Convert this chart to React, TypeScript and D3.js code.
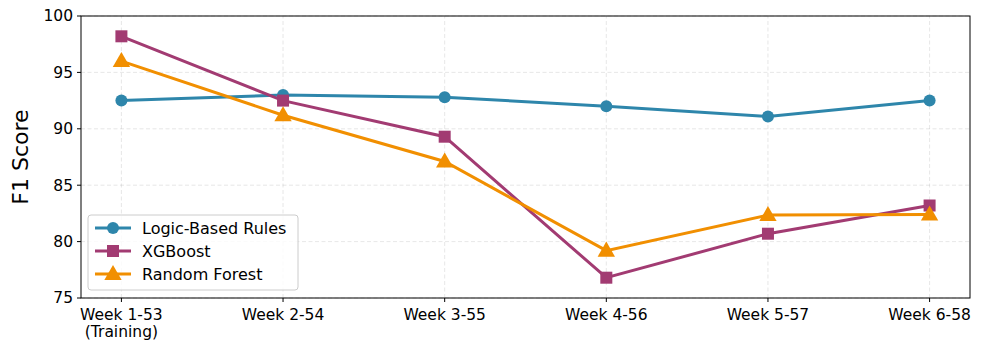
import React from 'react';
import * as d3 from 'd3';

const weeks = ['Week 1-53\n(Training)', 'Week 2-54', 'Week 3-55', 'Week 4-56', 'Week 5-57', 'Week 6-58'];
const logicRules = [92.5, 93.0, 92.8, 92.0, 91.1, 92.5];
const xgboost = [98.2, 92.5, 89.3, 76.8, 80.7, 83.2];
const randomForest = [96.0, 91.2, 87.1, 79.2, 82.35, 82.4];
const yTicks = [75, 80, 85, 90, 95, 100];

const series = [
  { name: 'Logic-Based Rules', values: logicRules, color: '#2E86AB', marker: 'circle' },
  { name: 'XGBoost', values: xgboost, color: '#A23B72', marker: 'square' },
  { name: 'Random Forest', values: randomForest, color: '#F18F01', marker: 'triangle' },
];

const W = 984;
const H = 350;
const m = { left: 81, right: 14, top: 16, bottom: 52 };
const font = 'DejaVu Sans, sans-serif';

function Marker({ type, x, y, color }: { type: string; x: number; y: number; color: string }) {
  if (type === 'circle') return <circle cx={x} cy={y} r={6} fill={color} />;
  if (type === 'square') return <rect x={x - 6} y={y - 6} width={12} height={12} fill={color} />;
  const s = d3.symbol(d3.symbolTriangle, 130)();
  return <path d={s || ''} transform={`translate(${x},${y + 1})`} fill={color} />;
}

export default function App() {
  const x = d3.scaleLinear().domain([-0.25, weeks.length - 0.75]).range([m.left, W - m.right]);
  const y = d3.scaleLinear().domain([75, 100]).range([H - m.bottom, m.top]);
  const line = d3.line<number>().x((_, i) => x(i)).y((d) => y(d));

  return (
    <svg width={W} height={H} style={{ position: 'absolute', left: 0, top: 0, background: '#fff' }}>
      <g>
        {weeks.map((_, i) => (
          <line key={'vg' + i} x1={x(i)} x2={x(i)} y1={y(75)} y2={y(100)} stroke="#b0b0b0" strokeOpacity={0.3} strokeDasharray="4,2.5" />
        ))}
        {yTicks.map((t) => (
          <line key={'hg' + t} x1={m.left} x2={W - m.right} y1={y(t)} y2={y(t)} stroke="#b0b0b0" strokeOpacity={0.3} strokeDasharray="4,2.5" />
        ))}
      </g>
      {series.map((s) => (
        <g key={s.name}>
          <path d={line(s.values) || ''} fill="none" stroke={s.color} strokeWidth={3} />
          {s.values.map((v, i) => (
            <Marker key={i} type={s.marker} x={x(i)} y={y(v)} color={s.color} />
          ))}
        </g>
      ))}
      <rect x={m.left} y={m.top} width={W - m.left - m.right} height={H - m.top - m.bottom} fill="none" stroke="#000" strokeWidth={1} />
      {yTicks.map((t) => (
        <g key={'yt' + t}>
          <line x1={m.left - 4} x2={m.left} y1={y(t)} y2={y(t)} stroke="#000" />
          <text x={m.left - 8} y={y(t)} dy="0.35em" textAnchor="end" fontFamily={font} fontSize={15.5}>{t}</text>
        </g>
      ))}
      {weeks.map((w, i) => (
        <g key={'xt' + i}>
          <line x1={x(i)} x2={x(i)} y1={y(75)} y2={y(75) + 4} stroke="#000" />
          <text x={x(i)} y={y(75) + 22} textAnchor="middle" fontFamily={font} fontSize={15.5}>
            {w.split('\n').map((part, j) => (
              <tspan key={j} x={x(i)} dy={j === 0 ? 0 : 17}>{part}</tspan>
            ))}
          </text>
        </g>
      ))}
      <text transform={`translate(28,${(m.top + H - m.bottom) / 2}) rotate(-90)`} textAnchor="middle" fontFamily={font} fontSize={22}>F1 Score</text>
      <g transform="translate(88,215)">
        <rect x={0} y={0} width={210} height={75} rx={3} fill="#fff" fillOpacity={0.8} stroke="#ccc" />
        {series.map((s, i) => (
          <g key={'lg' + s.name} transform={`translate(0,${13 + i * 23})`}>
            <line x1={7} x2={43} y1={0} y2={0} stroke={s.color} strokeWidth={3} />
            <Marker type={s.marker} x={25} y={0} color={s.color} />
            <text x={54} y={0} dy="0.35em" fontFamily={font} fontSize={16}>{s.name}</text>
          </g>
        ))}
      </g>
    </svg>
  );
}
